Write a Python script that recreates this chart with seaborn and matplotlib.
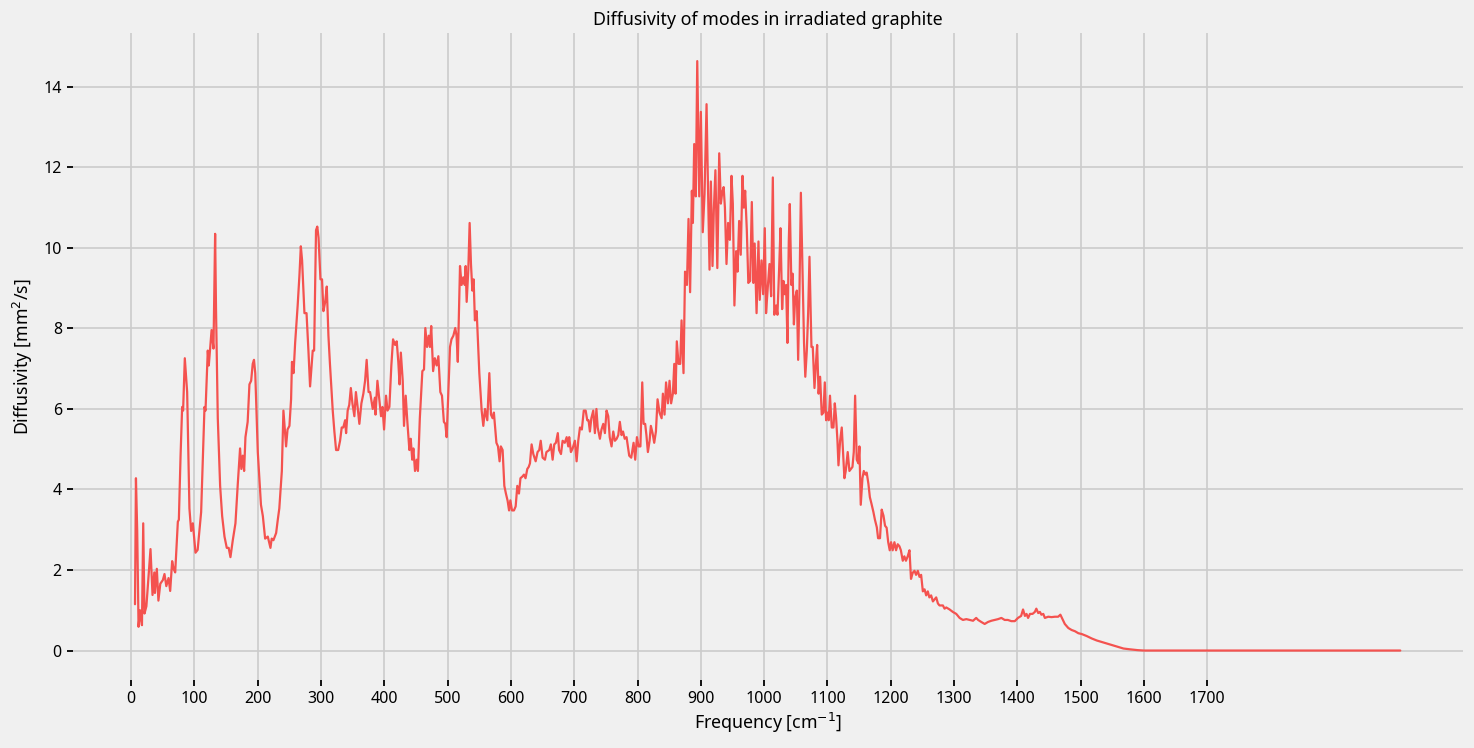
import matplotlib
matplotlib.use("Agg")
import matplotlib.pyplot as plt
import pandas as pd
import seaborn as sns

# Values (frequency in cm^-1, diffusivity in mm^2/s)
freq = [
    6, 7.5, 9.5, 11.6, 14, 17, 19, 21, 24, 30.5, 33.7, 36.5, 37.5, 40.5, 43, 46, 50, 52.6, 55.5, 59,
    61.6, 64.7, 67, 69.5, 73.7, 75.3, 78, 80.5, 82, 84.7, 88.4, 92, 94.7, 97.4, 101.6, 105, 110.5, 115.8, 117.4, 121,
    122.6, 124.7, 127, 130, 132.6, 134, 136.8, 140.5, 143.7, 147.4, 151, 154, 156.8, 160.5, 164.7, 168.4, 172, 174, 176.3, 178.4,
    180.5, 184, 186.8, 189.5, 192, 194, 196, 200, 205, 208, 211.6, 215.8, 220, 222, 224.7, 229, 231.6, 234, 238, 240.5,
    244.7, 247, 250, 252.6, 254, 256.5, 259, 263, 265.8, 268, 270, 273.7, 277, 280, 282.6, 286.8, 289, 292, 294, 296,
    299, 301.5, 303.7, 306.5, 309, 311.6, 314, 318.4, 321, 323.7, 327, 330, 332.6, 335, 338, 339.5, 342, 344.5, 347, 349.5,
    352.6, 355, 357.7, 360.5, 363.7, 366.8, 369.5, 372, 375, 377.4, 381.6, 385, 386, 389, 392, 394.7, 397, 399.5, 402.6, 405,
    407.9, 411, 413.7, 417, 419.5, 422, 424, 426, 429, 431, 433.7, 436.3, 439.5, 441.6, 444, 445.8, 448.4, 451, 453, 456,
    460, 462.6, 464.7, 467.4, 470, 472, 474, 477, 479.7, 482.6, 485.3, 488.4, 491, 494, 496.3, 498.4, 501, 503.7, 506, 509,
    512, 514, 516, 519.5, 522, 524.7, 527, 528.4, 530, 532.6, 534.7, 536.8, 539, 541, 543, 545.8, 550, 553.7, 556.3, 559,
    562.6, 565.8, 568.4, 571, 573, 577, 579.5, 582, 584, 586.8, 589.5, 592, 594.7, 597, 599, 601.6, 604.7, 607.4, 610, 612.6,
    615, 618, 620.5, 623, 625.8, 628, 630, 632.6, 635.3, 639, 642, 644.7, 647, 650, 653.7, 656, 660.5, 663, 665.8, 668.4,
    671, 674, 676, 679, 681.6, 685, 688, 690.5, 692, 694.7, 697.4, 701, 703.7, 706.3, 709, 712, 715, 718, 720.5, 722.6,
    724.7, 727, 730, 732.6, 735, 737, 740.5, 743, 745.8, 748.4, 751, 753.7, 756, 758.9, 761.6, 764.2, 767, 769.5, 772, 774.7,
    777, 779.7, 782.6, 786.8, 790, 793.7, 796.3, 799, 801.6, 804.5, 807.4, 809.5, 812, 814, 816.3, 819, 821, 823.7, 826.3, 829,
    831.6, 834.7, 838, 840, 842.6, 845, 848, 850.5, 853, 855.8, 858, 860, 862, 864.7, 867.4, 869.5, 872.6, 875, 878, 880.5,
    883, 885.8, 887.4, 889.5, 892, 894.3, 897.4, 900, 903, 905.8, 909, 911, 913.7, 915.8, 918.4, 920.5, 923, 926, 929, 931.6,
    933.7, 936, 938, 940.5, 943, 945.8, 948.4, 950.5, 953, 955.8, 957.9, 960.5, 963, 965.8, 967.9, 970, 972.6, 975, 977.9, 980.5,
    983, 985, 988, 991, 993, 995.8, 998.4, 1001, 1003, 1005.8, 1008.4, 1011, 1013.7, 1016, 1018.9, 1021, 1023.7, 1025.8, 1028.4, 1030.5,
    1032.6, 1034.7, 1036.8, 1038.9, 1040.5, 1043, 1045, 1047, 1049, 1051.6, 1053.7, 1055.8, 1058, 1060.5, 1063, 1065, 1067.4, 1069.5, 1071.6, 1074.7,
    1076.8, 1079.5, 1081.6, 1083.7, 1086, 1088.4, 1091, 1093.7, 1095.8, 1097.9, 1100, 1102, 1104, 1106.8, 1109.5, 1111.6, 1113.7, 1115.8, 1117.4, 1120,
    1122.6, 1124.7, 1126.8, 1128.9, 1132, 1134.7, 1137, 1139.5, 1141.6, 1143.7, 1146.3, 1148.9, 1150.5, 1152.6, 1155.3, 1157.4, 1160, 1162, 1164.7, 1167,
    1169.5, 1172.6, 1175, 1178, 1180, 1183, 1185.7, 1188.5, 1191, 1193.5, 1196, 1198.4, 1200.5, 1203, 1205.8, 1208.4, 1211, 1213.7, 1216, 1219,
    1221.5, 1224, 1226.8, 1229.6, 1232, 1234.7, 1237.5, 1240, 1242.8, 1245.4, 1248, 1250.7, 1253.4, 1256, 1258.5, 1261, 1263.8, 1266.6, 1269.2, 1271.8,
    1274.5, 1277, 1282.4, 1285, 1287.7, 1293, 1298, 1303.5, 1308.8, 1314, 1319.4, 1324.7, 1330, 1335, 1338, 1343, 1348.4, 1353.7, 1359, 1364,
    1369.5, 1374.8, 1380, 1385, 1390.5, 1396, 1401, 1406, 1409, 1412, 1414.5, 1417, 1420, 1424, 1427.7, 1430, 1433, 1435.6, 1438, 1441,
    1443.5, 1448.8, 1454, 1459.4, 1464.5, 1468, 1470.5, 1475, 1480.5, 1485.8, 1491, 1496.4, 1501.7, 1509.6, 1517.5, 1525.4, 1536, 1546.5, 1557, 1567.7,
    1578, 1590, 1600, 2005,
]
diffusivity = [
    1.15, 4.28, 2.97, 0.59, 1.0, 0.63, 3.16, 0.92, 1.1, 2.52, 1.38, 1.94, 1.43, 2.03, 1.24, 1.66, 1.75, 1.9, 1.6, 1.8,
    1.48, 2.22, 2.03, 1.94, 3.2, 3.25, 4.84, 6.05, 5.96, 7.26, 6.42, 3.53, 2.97, 3.16, 2.43, 2.5, 3.44, 6.05, 5.96, 7.45,
    7.08, 7.5, 7.96, 7.5, 10.35, 8.48, 5.77, 4.09, 3.34, 2.83, 2.55, 2.55, 2.32, 2.74, 3.16, 4.14, 5.02, 4.51, 4.84, 4.46,
    5.3, 5.68, 6.61, 6.7, 7.12, 7.22, 6.89, 4.93, 3.62, 3.34, 2.78, 2.83, 2.55, 2.78, 2.74, 2.92, 3.25, 3.53, 4.46, 5.96,
    5.07, 5.49, 5.58, 6.24, 7.17, 6.89, 7.64, 8.57, 9.32, 10.04, 9.69, 8.38, 8.38, 7.45, 6.56, 7.45, 7.45, 10.44, 10.53, 10.25,
    9.22, 9.22, 8.43, 8.66, 9.04, 7.82, 7.12, 5.96, 5.44, 4.98, 4.98, 5.21, 5.54, 5.54, 5.72, 5.4, 5.96, 6.1, 6.52, 6.14,
    5.82, 6.42, 6.05, 5.63, 6.14, 6.38, 6.7, 7.22, 6.42, 6.42, 6.0, 6.28, 5.86, 6.7, 6.24, 5.82, 6.05, 5.49, 6.33, 5.96,
    6.05, 7.08, 7.73, 7.59, 7.68, 7.17, 6.61, 7.4, 6.7, 5.58, 6.33, 5.68, 4.98, 5.26, 4.74, 5.02, 4.46, 4.74, 4.46, 5.77,
    6.94, 6.98, 8.01, 7.54, 7.82, 7.54, 8.06, 6.94, 7.26, 7.08, 7.31, 6.42, 6.33, 5.68, 5.63, 5.3, 6.42, 7.54, 7.73, 7.82,
    8.01, 7.82, 7.17, 9.55, 9.08, 9.27, 9.08, 9.55, 8.66, 9.46, 10.62, 9.6, 8.94, 9.22, 8.2, 8.43, 6.89, 5.96, 5.58, 6.0,
    5.72, 6.89, 5.86, 5.77, 5.91, 5.16, 5.07, 4.7, 5.07, 4.98, 4.09, 3.9, 3.72, 3.48, 3.73, 3.48, 3.48, 3.58, 4.09, 3.9,
    4.28, 4.32, 4.37, 4.28, 4.51, 4.56, 4.65, 5.12, 4.88, 4.7, 4.93, 4.98, 5.21, 4.79, 4.74, 4.93, 4.98, 5.12, 4.74, 5.12,
    5.16, 5.4, 4.98, 4.88, 5.21, 5.16, 5.3, 5.07, 5.3, 4.93, 5.02, 5.21, 4.7, 5.21, 5.54, 5.49, 5.96, 5.96, 5.72, 5.72,
    5.44, 5.77, 5.96, 5.4, 6.0, 5.54, 5.26, 5.49, 5.63, 5.4, 5.96, 5.82, 5.3, 5.07, 5.44, 5.21, 5.26, 5.35, 5.68, 5.35,
    5.44, 5.26, 5.3, 4.84, 4.79, 5.16, 4.74, 5.3, 5.07, 5.07, 6.66, 5.63, 5.63, 5.35, 4.93, 5.21, 5.58, 5.4, 5.16, 5.44,
    6.24, 5.91, 5.77, 6.38, 5.86, 6.66, 6.14, 6.7, 6.14, 6.38, 7.12, 6.38, 7.68, 7.12, 7.12, 8.2, 6.89, 9.41, 9.08, 10.72,
    8.9, 11.42, 10.62, 12.58, 11.28, 14.64, 11.28, 13.38, 10.39, 11.33, 13.57, 11.75, 9.46, 11.65, 9.55, 10.95, 11.93, 9.5, 12.35, 11.1,
    11.37, 11.51, 11.0, 9.6, 10.62, 10.2, 11.79, 11.1, 8.57, 9.92, 9.41, 10.67, 9.83, 11.79, 11.0, 11.42, 10.44, 9.13, 9.18, 11.14,
    9.13, 10.11, 8.38, 10.16, 8.71, 9.69, 8.85, 10.49, 8.38, 9.04, 9.6, 8.8, 11.75, 8.34, 8.57, 8.34, 9.5, 10.49, 8.48, 9.18,
    8.85, 9.08, 7.64, 10.16, 11.09, 9.08, 9.36, 8.1, 8.76, 8.94, 7.22, 8.94, 11.37, 9.5, 7.64, 6.8, 7.45, 8.38, 9.78, 7.54,
    7.54, 6.52, 7.08, 7.59, 6.38, 6.8, 5.86, 5.91, 6.66, 5.72, 5.91, 5.72, 6.33, 5.54, 5.54, 6.14, 5.77, 5.21, 4.6, 5.21,
    5.54, 4.93, 4.28, 4.46, 4.93, 4.46, 4.51, 4.56, 4.93, 6.33, 4.74, 4.65, 5.07, 3.62, 4.28, 4.46, 4.37, 4.42, 4.14, 3.81,
    3.65, 3.44, 3.25, 3.06, 2.79, 2.79, 3.5, 3.35, 3.1, 3.05, 2.69, 2.49, 2.69, 2.49, 2.69, 2.49, 2.64, 2.59, 2.49, 2.23,
    2.34, 2.23, 2.34, 2.49, 1.78, 1.93, 1.98, 1.88, 1.98, 1.83, 1.88, 1.47, 1.52, 1.37, 1.47, 1.32, 1.37, 1.22, 1.27, 1.32,
    1.17, 1.12, 1.12, 1.04, 1.07, 1.02, 0.96, 0.91, 0.81, 0.76, 0.78, 0.76, 0.74, 0.81, 0.76, 0.71, 0.66, 0.71, 0.74, 0.76,
    0.78, 0.81, 0.76, 0.76, 0.73, 0.73, 0.81, 0.86, 1.02, 0.86, 0.91, 0.81, 0.91, 0.91, 0.96, 1.04, 0.93, 0.96, 0.89, 0.91,
    0.81, 0.84, 0.83, 0.84, 0.84, 0.89, 0.81, 0.66, 0.56, 0.51, 0.48, 0.43, 0.41, 0.36, 0.3, 0.25, 0.2, 0.15, 0.1, 0.05,
    0.03, 0.01, 0.0, 0.0,
]
xticks = list(range(0, 1800, 100))
yticks = list(range(0, 16, 2))

data = pd.DataFrame({"freq": freq, "diff": diffusivity})

sns.set_theme(style="whitegrid", rc={
    "figure.facecolor": "#f0f0f0",
    "axes.facecolor": "#f0f0f0",
    "axes.edgecolor": "#f0f0f0",
    "grid.color": "#cbcbcb",
    "grid.linewidth": 1.2,
    "xtick.bottom": True,
    "ytick.left": True,
    "xtick.major.size": 4,
    "ytick.major.size": 4,
    "xtick.major.width": 1.3,
    "ytick.major.width": 1.3,
    "xtick.color": "black",
    "ytick.color": "black",
    "text.color": "black",
    "axes.labelcolor": "black",
})
plt.rcParams["font.family"] = ["Noto Sans", "DejaVu Sans"]

fig, ax = plt.subplots(figsize=(14.74, 7.48), dpi=100)
fig.subplots_adjust(left=0.0495, right=0.9925, top=0.956, bottom=0.091)

sns.lineplot(data=data, x="freq", y="diff", color="#f4524f", lw=1.6, ax=ax)

ax.set_xticks(xticks)
ax.set_yticks(yticks)
ax.set_xlim(-92, 2104)
ax.set_ylim(-0.73, 15.34)
ax.tick_params(labelsize=11.5, colors="black", pad=4)
for s in ax.spines.values():
    s.set_visible(False)

ax.set_xlabel("Frequency [cm$^{-1}$]", fontsize=12.8, labelpad=3)
ax.set_ylabel("Diffusivity [mm$^2$/s]", fontsize=12.8, labelpad=6)
ax.set_title("Diffusivity of modes in irradiated graphite", fontsize=12.8)

fig.savefig("out.png", dpi=100, facecolor=fig.get_facecolor())
